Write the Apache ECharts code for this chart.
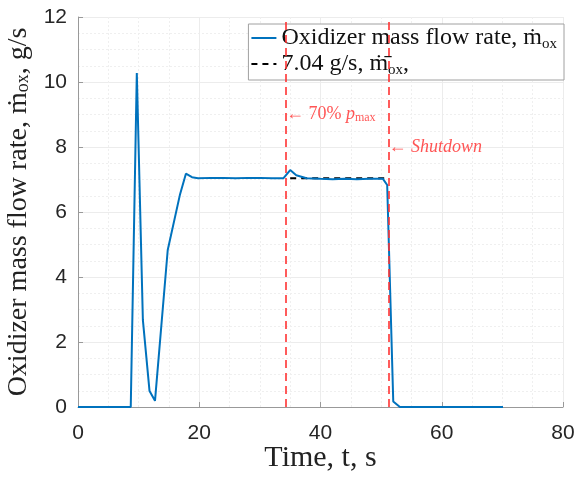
<!DOCTYPE html>
<html>
<head>
<meta charset="utf-8">
<script src="https://cdn.jsdelivr.net/npm/echarts@6/dist/echarts.min.js"></script>
<style>
  html, body { margin: 0; padding: 0; background: #fff; }
  #chart { width: 580px; height: 477px; }
</style>
</head>
<body>
<div id="chart"></div>
<script>
// measured oxidizer flow (time in s, flow in g/s)
const timeS = [0, 8.7, 9.7, 10.7, 11.8, 12.7, 14.8, 16.8, 17.8, 18.8, 19.8, 22, 24, 26, 28, 30, 32, 33.9,
  35.0, 36.0, 37.7, 40, 42, 44, 46, 48, 50.3, 51.0, 52.0, 53.1, 70.1]
const flowGs = [0, 0, 10.28, 2.68, 0.49, 0.19, 4.83, 6.52, 7.18, 7.07, 7.04, 7.05, 7.05, 7.04, 7.05, 7.05, 7.04, 7.04,
  7.29, 7.13, 7.04, 7.02, 7.01, 7.02, 7.01, 7.02, 7.02, 6.83, 0.17, 0, 0]

// average over the steady window
const meanTime = [35, 51]
const meanFlow = [7.04, 7.04]

// event markers
const eventTime = [34.3, 51.2]
const eventLabelY = [9, 8]
const eventNames = ['p70', 'shutdown']

const xTicks = { min: 0, max: 80, interval: 20 }
const yTicks = { min: 0, max: 12, interval: 2 }

const serif = '"Liberation Serif", "DejaVu Serif", serif'
const sans = '"Liberation Sans", Arial, sans-serif'
const red = '#ff2a2a'
const redLine = 'rgba(255, 50, 50, 0.8)'

const chart = echarts.init(document.getElementById('chart'))

const flowName = 'Oxidizer mass flow rate'
const meanName = 'mean'

chart.setOption({
  animation: false,
  grid: { left: 78, right: 17, top: 17, bottom: 70, containLabel: false, outerBoundsMode: 'none' },
  legend: {
    data: [flowName, meanName],
    orient: 'vertical',
    right: 16,
    top: 24,
    padding: [2, 7, 2, 2],
    itemGap: 0,
    itemWidth: 25,
    itemHeight: 14,
    itemStyle: { opacity: 0 },
    backgroundColor: '#fff',
    borderColor: '#a0a0a0',
    borderWidth: 1,
    borderRadius: 0,
    formatter: name => name === flowName
      ? '{t|Oxidizer mass flow rate, ṁ}{s|ox}'
      : '{t|7.04 g/s, ṁ\u0304}{s|ox}{t|,}',
    textStyle: {
      color: '#111',
      rich: {
        t: { fontFamily: serif, fontSize: 24, color: '#111', lineHeight: 28 },
        s: { fontFamily: serif, fontSize: 15, color: '#111', verticalAlign: 'bottom', padding: [10, 0, 0, 0] }
      }
    }
  },
  xAxis: {
    type: 'value',
    min: xTicks.min, max: xTicks.max, interval: xTicks.interval,
    name: 'Time, t, s',
    nameLocation: 'middle',
    nameGap: 36,
    nameMoveOverlap: false,
    nameTextStyle: { fontFamily: serif, fontSize: 30, color: '#222' },
    axisLine: { show: true, lineStyle: { color: '#999', width: 1 } },
    axisTick: { show: true, inside: true, length: 5, lineStyle: { color: '#999' } },
    axisLabel: { fontFamily: sans, fontSize: 21, color: '#262626', margin: 16 },
    splitLine: { show: true, lineStyle: { color: '#ececec', width: 1 } },
    minorTick: { show: false, splitNumber: 4 },
    minorSplitLine: { show: true, lineStyle: { color: '#efefef', type: [2, 2] } }
  },
  yAxis: {
    type: 'value',
    min: yTicks.min, max: yTicks.max, interval: yTicks.interval,
    name: '{t|Oxidizer mass flow rate, ṁ}{s|ox}{t|, g/s}',
    nameLocation: 'middle',
    nameGap: 41,
    nameTextStyle: {
      rich: {
        t: { fontFamily: serif, fontSize: 28, color: '#222' },
        s: { fontFamily: serif, fontSize: 18, color: '#222', verticalAlign: 'bottom', padding: [11, 0, 0, 0] }
      }
    },
    axisLine: { show: true, lineStyle: { color: '#999', width: 1 } },
    axisTick: { show: true, inside: true, length: 5, lineStyle: { color: '#999' } },
    axisLabel: { fontFamily: sans, fontSize: 21, color: '#262626', margin: 11 },
    splitLine: { show: true, lineStyle: { color: '#ececec', width: 1 } },
    minorTick: { show: false, splitNumber: 4 },
    minorSplitLine: { show: true, lineStyle: { color: '#efefef', type: [2, 2] } }
  },
  series: [
    {
      name: 'events',
      type: 'scatter',
      symbolSize: 0,
      data: eventTime.map((t, i) => ({ value: [t, eventLabelY[i]], name: eventNames[i] })),
      label: {
        show: true,
        position: 'right',
        distance: 0,
        formatter: p => p.name === 'p70'
          ? '{t|← 70%}{i| p}{s|max}'
          : '{t|← }{i|Shutdown}',
        rich: {
          t: { fontFamily: serif, fontSize: 18, color: red },
          i: { fontFamily: serif, fontSize: 18, fontStyle: 'italic', color: red },
          s: { fontFamily: serif, fontSize: 12, color: red, verticalAlign: 'bottom', padding: [7, 0, 0, 0] }
        }
      },
      markLine: {
        silent: true,
        symbol: 'none',
        label: { show: false },
        lineStyle: { color: redLine, width: 2, type: [8, 5] },
        data: eventTime.map(t => ({ xAxis: t }))
      },
      z: 1
    },
    {
      name: flowName,
      type: 'line',
      data: timeS.map((t, i) => [t, flowGs[i]]),
      symbol: 'none',
      lineStyle: { color: '#0072BD', width: 2 },
      itemStyle: { color: '#0072BD' },
      z: 3
    },
    {
      name: meanName,
      type: 'line',
      data: meanTime.map((t, i) => [t, meanFlow[i]]),
      symbol: 'none',
      lineStyle: { color: '#000', width: 2, type: [6, 5] },
      itemStyle: { color: '#000' },
      z: 2
    }
  ]
})
</script>
</body>
</html>
